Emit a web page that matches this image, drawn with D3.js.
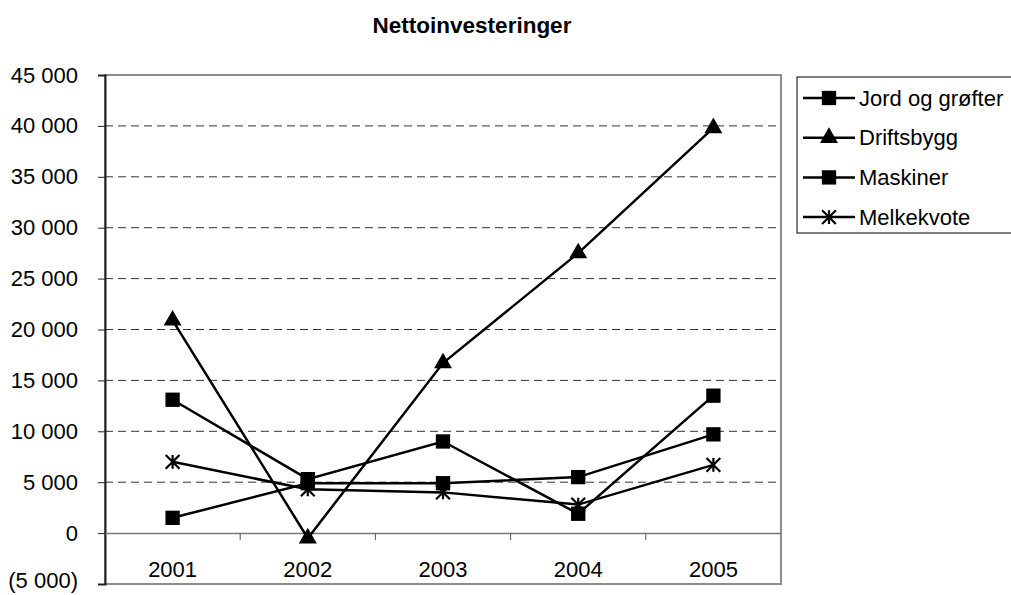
<!DOCTYPE html>
<html>
<head>
<meta charset="utf-8">
<script src="https://cdn.jsdelivr.net/npm/d3@7"></script>
<style>
	body { margin: 0; background: #fff; }
	svg { display: block; font-family: "Liberation Sans", Arial, sans-serif; }
</style>
</head>
<body>
<svg id="chart" width="1011" height="595"></svg>
<script>
const title = "Nettoinvesteringer";
const years = ["2001", "2002", "2003", "2004", "2005"];
const seriesNames = ["Jord og grøfter", "Driftsbygg", "Maskiner", "Melkekvote"];
const jordOgGrofter = [1500, 4900, 4900, 5500, 9700];
const driftsbygg = [20900, -500, 16700, 27500, 39800];
const maskiner = [13100, 5300, 9000, 1900, 13500];
const melkekvote = [7000, 4300, 4000, 2800, 6700];
const yTicks = [-5000, 0, 5000, 10000, 15000, 20000, 25000, 30000, 35000, 40000, 45000];

const svg = d3.select("#chart");
const plot = {left: 105, right: 781, top: 75, bottom: 584};
const fontSize = 22;

// excel style star: vertical bar plus an X
const symbolStar = {
	draw(ctx, size) {
		const r = Math.sqrt(size) / 2;
		ctx.moveTo(0, -r); ctx.lineTo(0, r);
		ctx.moveTo(-r, -r); ctx.lineTo(r, r);
		ctx.moveTo(-r, r); ctx.lineTo(r, -r);
	}
};

const series = [
	{name: seriesNames[0], values: jordOgGrofter, symbol: d3.symbolSquare, size: 205},
	{name: seriesNames[1], values: driftsbygg, symbol: d3.symbolTriangle, size: 140},
	{name: seriesNames[2], values: maskiner, symbol: d3.symbolSquare, size: 205},
	{name: seriesNames[3], values: melkekvote, symbol: symbolStar, size: 190}
];

const x = d3.scaleBand().domain(years).range([plot.left, plot.right]);
const y = d3.scaleLinear().domain([-5000, 45000]).range([plot.bottom, plot.top]);

function fmt(v) {
	const s = d3.format(",")(Math.abs(v)).replace(/,/g, " ");
	return v < 0 ? "(" + s + ")" : s;
}

// title
svg.append("text")
	.attr("x", 472).attr("y", 33)
	.attr("text-anchor", "middle")
	.attr("font-size", 22.5).attr("font-weight", "bold")
	.text(title);

// plot border
svg.append("rect")
	.attr("x", plot.left).attr("y", plot.top)
	.attr("width", plot.right - plot.left).attr("height", plot.bottom - plot.top)
	.attr("fill", "#fff").attr("stroke", "#8c8c8c").attr("stroke-width", 2);

// gridlines
svg.append("g")
	.selectAll("line")
	.data(yTicks.filter(d => d > 0 && d < 45000))
	.join("line")
	.attr("x1", plot.left).attr("x2", plot.right)
	.attr("y1", d => y(d)).attr("y2", d => y(d))
	.attr("stroke", "#333").attr("stroke-dasharray", "8,5").attr("stroke-width", 1);

// y axis
const yAxis = svg.append("g")
	.attr("transform", `translate(${plot.left},0)`)
	.call(d3.axisLeft(y).tickValues(yTicks).tickFormat(fmt).tickSize(7).tickPadding(20));
yAxis.select(".domain").attr("stroke", "#222").attr("stroke-width", 2);
yAxis.selectAll(".tick line").attr("stroke", "#222");
yAxis.selectAll("text").attr("font-size", fontSize).attr("fill", "#000")
	.attr("font-family", "Liberation Sans, Arial, sans-serif");
// lowest label sits on the bottom edge, lift it a little so it stays inside
yAxis.selectAll(".tick").filter(d => d < 0).select("text").attr("dy", "0.18em");

// x axis on the zero line
const xAxis = svg.append("g")
	.attr("transform", `translate(0,${y(0)})`)
	.call(d3.axisBottom(x).tickSize(0).tickPadding(28));
xAxis.select(".domain").attr("stroke", "#777").attr("stroke-width", 1.5);
xAxis.selectAll("text").attr("font-size", fontSize).attr("fill", "#000")
	.attr("font-family", "Liberation Sans, Arial, sans-serif");
xAxis.selectAll(".boundary")
	.data(years.slice(1))
	.join("line")
	.attr("x1", d => x(d)).attr("x2", d => x(d))
	.attr("y1", 0).attr("y2", 7)
	.attr("stroke", "#555");

// lines and markers
const line = d3.line()
	.x((d, i) => x(years[i]) + x.bandwidth() / 2)
	.y(d => y(d));

series.forEach(s => {
	svg.append("path")
		.attr("d", line(s.values))
		.attr("fill", "none").attr("stroke", "#000").attr("stroke-width", 2.5);
});

series.forEach(s => {
	const isStar = s.symbol === symbolStar;
	svg.append("g")
		.selectAll("path")
		.data(s.values)
		.join("path")
		.attr("transform", (d, i) => `translate(${x(years[i]) + x.bandwidth() / 2},${y(d)})`)
		.attr("d", d3.symbol(s.symbol, s.size))
		.attr("fill", isStar ? "none" : "#000")
		.attr("stroke", "#000").attr("stroke-width", isStar ? 2.2 : 0);
});

// legend
const legend = svg.append("g");
legend.append("rect")
	.attr("x", 797).attr("y", 77).attr("width", 220).attr("height", 156)
	.attr("fill", "#fff").attr("stroke", "#000").attr("stroke-width", 1);
const item = legend.selectAll(".item")
	.data(series)
	.join("g")
	.attr("class", "item")
	.attr("transform", (d, i) => `translate(0,${98 + i * 39.7})`);
item.append("line")
	.attr("x1", 803).attr("x2", 855)
	.attr("stroke", "#000").attr("stroke-width", 2.5);
item.append("path")
	.attr("transform", "translate(829,0)")
	.attr("d", d => d3.symbol(d.symbol, d.size)())
	.attr("fill", d => d.symbol === symbolStar ? "none" : "#000")
	.attr("stroke", "#000").attr("stroke-width", d => d.symbol === symbolStar ? 2.2 : 0);
item.append("text")
	.attr("x", 859).attr("dy", "0.35em")
	.attr("font-size", fontSize)
	.text(d => d.name);
</script>
</body>
</html>
